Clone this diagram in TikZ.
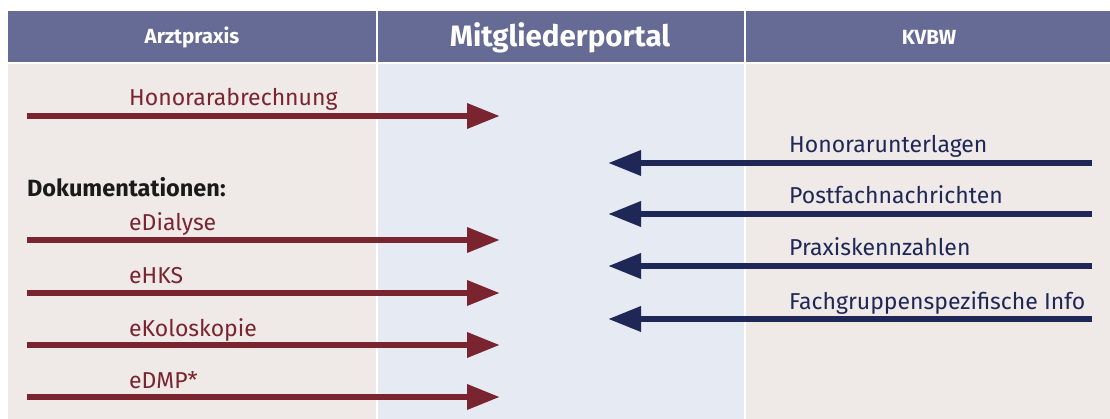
\documentclass[tikz,border=0pt]{standalone}
\usepackage{fontspec}
\setmainfont{Fira Sans}
\usetikzlibrary{arrows.meta}
\definecolor{headblue}{HTML}{666B95}
\definecolor{sidebg}{HTML}{EFEAE7}
\definecolor{midbg}{HTML}{E6EAF3}
\definecolor{wine}{HTML}{7A2430}
\definecolor{navy}{HTML}{1F2757}
\definecolor{ink}{HTML}{1A1A1A}
\tikzset{
  head/.style={fill=headblue, draw=none},
  headtext/.style={text=white, font=\bfseries\fontsize{20.5}{24}\selectfont, anchor=center},
  flow/.style={line width=6.5pt, -{Triangle[length=33pt,width=24pt]}},
  outflow/.style={flow, draw=wine},
  inflow/.style={flow, draw=navy},
  redlabel/.style={text=wine, font=\fontsize{23}{27}\selectfont, anchor=base west, inner sep=0pt},
  bluelabel/.style={text=navy, font=\fontsize{23}{27}\selectfont, anchor=base west, inner sep=0pt},
}
\begin{document}
\begin{tikzpicture}[x=1pt,y=-1pt]
\useasboundingbox (0,0) rectangle (1110,419);
\fill[white] (0,0) rectangle (1110,419);
% column headers
\fill[head] (8,11) rectangle (376,62);
\fill[head] (378,11) rectangle (744,62);
\fill[head] (746,11) rectangle (1110,62);
% column bodies
\fill[sidebg] (8,64) rectangle (376,419);
\fill[midbg] (378,64) rectangle (744,419);
\fill[sidebg] (746,64) rectangle (1110,419);
\node[headtext] (hA) at (192,37) {Arztpraxis};
\node[headtext, font=\bfseries\fontsize{29.5}{34}\selectfont] (hM) at (560,38) {Mitgliederportal};
\node[headtext] (hK) at (929,37) {KVBW};
% outgoing (practice -> portal)
\foreach \n/\y in {a/116, b/240, c/293, d/345, e/397}{
  \coordinate (s\n) at (27,\y);
  \coordinate (t\n) at (500,\y);
  \draw[outflow] (s\n) -- (t\n);
}
\node[redlabel] (la) at (129,106) {Honorarabrechnung};
\node[text=ink, font=\bfseries\fontsize{23.5}{28}\selectfont, anchor=base west, inner sep=0pt] (doc) at (27,197) {Dokumentationen:};
\node[redlabel] (lb) at (129,231) {eDialyse};
\node[redlabel] (lc) at (129,284) {eHKS};
\node[redlabel] (ld) at (129,336) {eKoloskopie};
\node[redlabel] (le) at (129,388) {eDMP*};
% incoming (KVBW -> portal)
\foreach \n/\y in {f/163, g/214, h/266, i/319}{
  \coordinate (s\n) at (1092,\y);
  \coordinate (t\n) at (608,\y);
  \draw[inflow] (s\n) -- (t\n);
}
\node[bluelabel] (lf) at (789,153) {Honorarunterlagen};
\node[bluelabel] (lg) at (789,204) {Postfachnachrichten};
\node[bluelabel] (lh) at (789,256) {Praxiskennzahlen};
\node[bluelabel] (li) at (789,309) {Fachgruppenspezifische Info};
\end{tikzpicture}
\end{document}
